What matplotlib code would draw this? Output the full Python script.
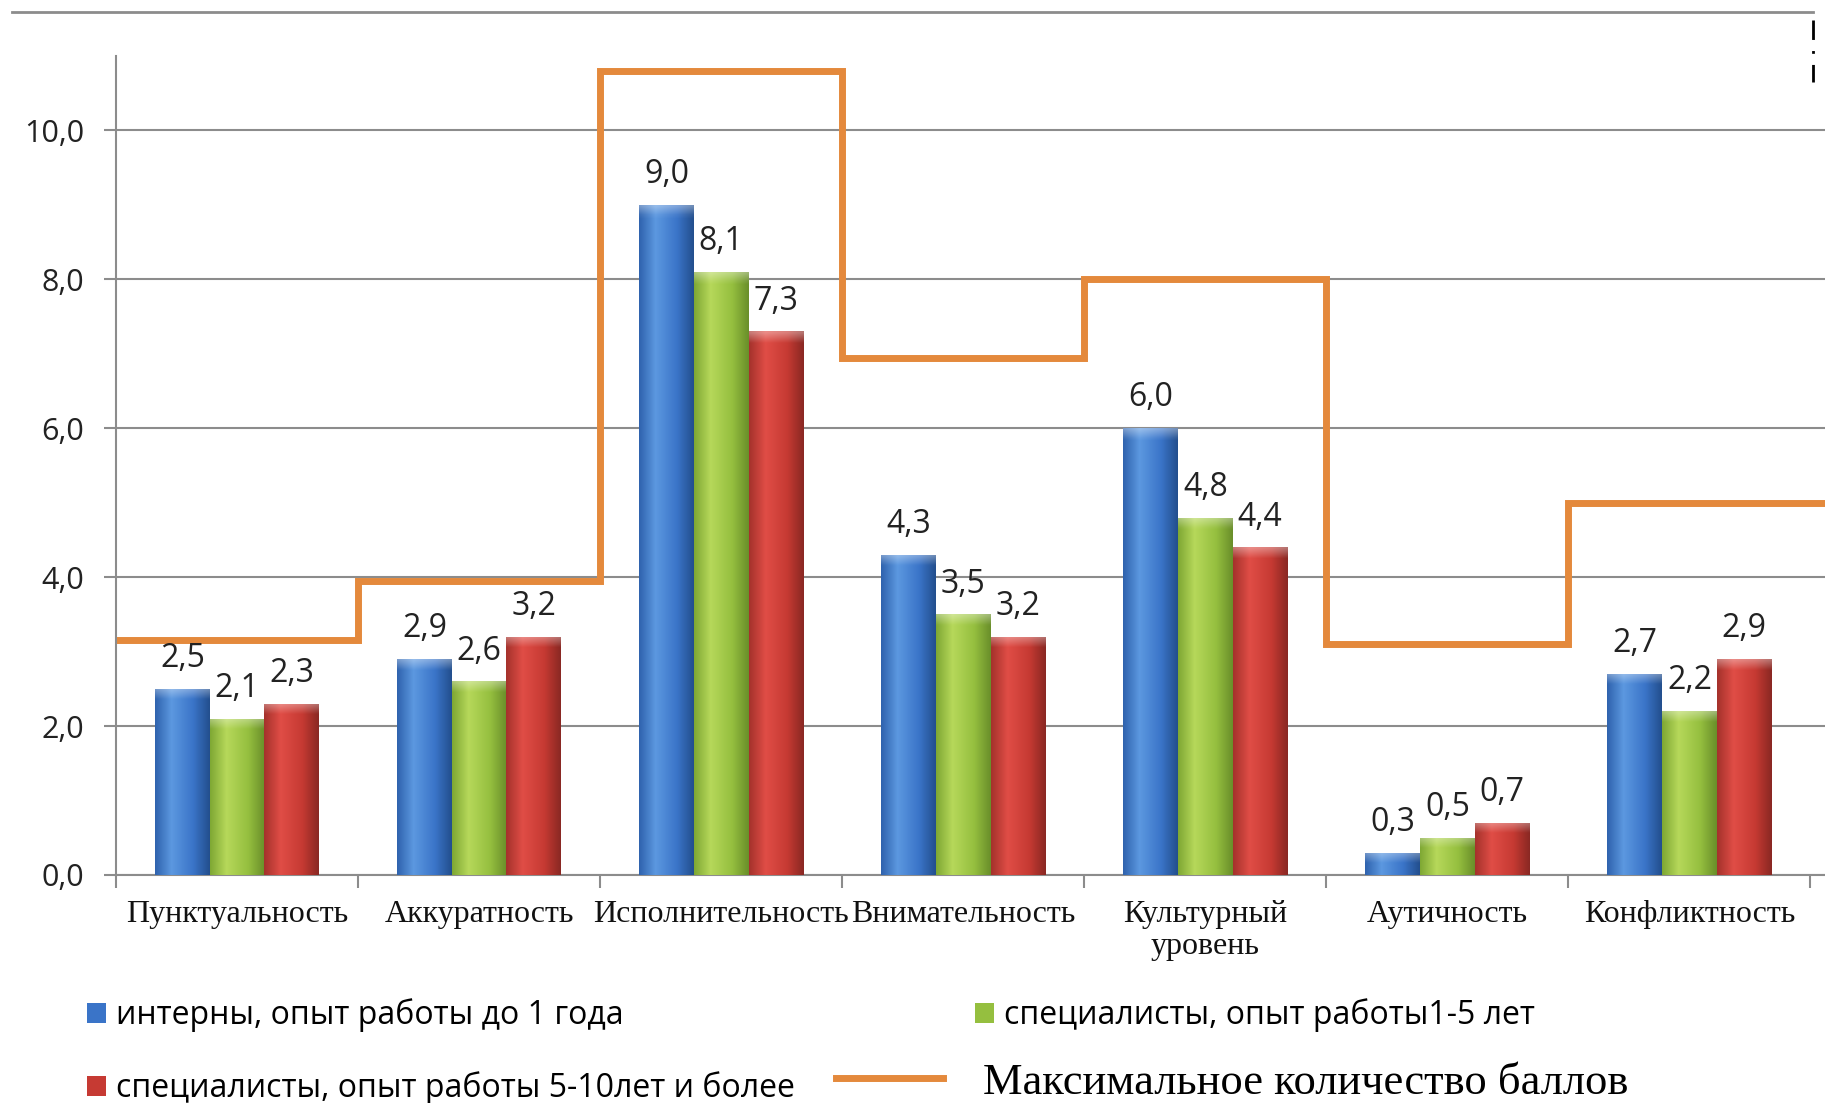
import numpy as np
import matplotlib.pyplot as plt
from matplotlib.colors import LinearSegmentedColormap
from matplotlib.lines import Line2D
from matplotlib.ticker import FuncFormatter

categories = ['Пунктуальность', 'Аккуратность', 'Исполнительность', 'Внимательность',
              'Культурный\nуровень', 'Аутичность', 'Конфликтность']
interns = [2.5, 2.9, 9.0, 4.3, 6.0, 0.3, 2.7]
specialists_1_5 = [2.1, 2.6, 8.1, 3.5, 4.8, 0.5, 2.2]
specialists_5_10 = [2.3, 3.2, 7.3, 3.2, 4.4, 0.7, 2.9]
max_score = [3.15, 3.95, 10.8, 6.95, 8.0, 3.1, 5.0]

series_names = ['интерны, опыт работы до 1 года',
                'специалисты, опыт работы1-5 лет',
                'специалисты, опыт работы 5-10лет и более']
max_name = 'Максимальное количество баллов'

# shading stops per series: left edge, highlight, body, right shadow
BAR_SHADES = [
    ['#2F63AE', '#5C98E0', '#3A74C8', '#234F8E'],
    ['#7FA834', '#B6D85A', '#95BF3F', '#6A8F2A'],
    ['#A5322C', '#E04D46', '#C63A33', '#8A2823'],
]
BAR_WIDTH = 0.226
SANS = ['Open Sans', 'DejaVu Sans']
SERIF = ['Liberation Serif', 'DejaVu Serif']
GRID = '#8C8C8C'
ORANGE = '#E4893C'

W, H = 1825, 1103


def shade_bar(ax, rect, shades):
    # fake the excel cylinder look with a gradient clipped to the bar
    x0, w, h = rect.get_x(), rect.get_width(), rect.get_height()
    cmap = LinearSegmentedColormap.from_list('s', list(zip([0, 0.3, 0.7, 1], shades)))
    cols = cmap(np.linspace(0, 1, 64))[:, :3]
    rows = 160
    img = np.repeat(cols[None, :, :], rows, axis=0)
    depth = np.linspace(0, h, rows)  # distance from the top, row 0 is top
    cap = 0.14
    t = np.clip(1 - depth / cap, 0, 1) * 0.35
    img = img + (1 - img) * t[:, None, None]
    im = ax.imshow(img, extent=[x0, x0 + w, 0, h], aspect='auto',
                   interpolation='bilinear', zorder=3)
    im.set_clip_path(rect)


def main():
    fig = plt.figure(figsize=(W / 100, H / 100), dpi=100)
    ax = fig.add_axes([116 / W, 1 - 875 / H, 1 - 116 / W, (875 - 56) / H])

    x = np.arange(len(categories))
    containers = []
    for i, (vals, shades) in enumerate(zip([interns, specialists_1_5, specialists_5_10], BAR_SHADES)):
        bars = ax.bar(x + (i - 1) * BAR_WIDTH, vals, BAR_WIDTH, color=shades[2],
                      edgecolor='none', zorder=3, label=series_names[i])
        for rect in bars:
            shade_bar(ax, rect, shades)
        ax.bar_label(bars, labels=[f'{v:.1f}'.replace('.', ',') for v in vals],
                     padding=10, fontsize=23, family=SANS, color='#222222', zorder=5)
        containers.append(bars)

    # max score step line
    edges = np.append(x - 0.5, len(categories) - 0.3)
    ax.stairs(max_score, edges, baseline=None, color=ORANGE, lw=5, zorder=2)

    ax.set_xlim(-0.5, 6.56)
    ax.set_ylim(0, 11.0)
    ax.set_yticks(np.arange(0, 11, 2))
    ax.yaxis.set_major_formatter(FuncFormatter(lambda v, p: f'{v:.1f}'.replace('.', ',')))
    ax.grid(axis='y', color=GRID, lw=1.5, zorder=0)
    ax.set_axisbelow(True)

    ax.set_xticks(x)
    ax.set_xticklabels(categories, family=SERIF, fontsize=23, color='#111111', linespacing=1.15)
    ax.set_xticks(np.arange(len(categories) + 1) - 0.5, minor=True)
    ax.tick_params(axis='x', which='major', length=0, pad=18)
    ax.tick_params(axis='x', which='minor', length=9, width=1.5, color=GRID)
    ax.tick_params(axis='y', length=9, width=1.5, color=GRID, pad=14, labelsize=22, labelcolor='#222222')
    for lab in ax.get_yticklabels():
        lab.set_family(SANS)

    for side in ['top', 'right']:
        ax.spines[side].set_visible(False)
    for side in ['left', 'bottom']:
        ax.spines[side].set_color(GRID)
        ax.spines[side].set_linewidth(1.5)

    # frame line on top and selection handle at the right
    fig.add_artist(Line2D([12 / W, 1813 / W], [1 - 12 / H] * 2, color=GRID, lw=2))
    fig.add_artist(Line2D([1813 / W] * 2, [1 - 20 / H, 1 - 82 / H], color='black',
                          lw=2, linestyle=(0, (7, 4, 1, 4))))

    # legend laid out as in the original, one entry at a time
    leg_kw = dict(loc='center left', frameon=False, borderpad=0, borderaxespad=0,
                  handlelength=0.6, handleheight=0.6, handletextpad=0.3)
    fig.legend([containers[0]], [series_names[0]], bbox_to_anchor=(87 / W, 1 - 1015 / H),
               prop=dict(family=SANS, size=23), **leg_kw)
    fig.legend([containers[1]], [series_names[1]], bbox_to_anchor=(975 / W, 1 - 1015 / H),
               prop=dict(family=SANS, size=23), **leg_kw)
    fig.legend([containers[2]], [series_names[2]], bbox_to_anchor=(87 / W, 1 - 1088 / H),
               prop=dict(family=SANS, size=23), **leg_kw)
    fig.legend([Line2D([], [], color=ORANGE, lw=5)], [max_name],
               bbox_to_anchor=(836 / W, 1 - 1083 / H), loc='center left', frameon=False,
               borderpad=0, borderaxespad=0, handlelength=2.4, handletextpad=0.9,
               prop=dict(family=SERIF, size=32))

    fig.savefig('out.png', dpi=100)


if __name__ == "__main__":
    main()
